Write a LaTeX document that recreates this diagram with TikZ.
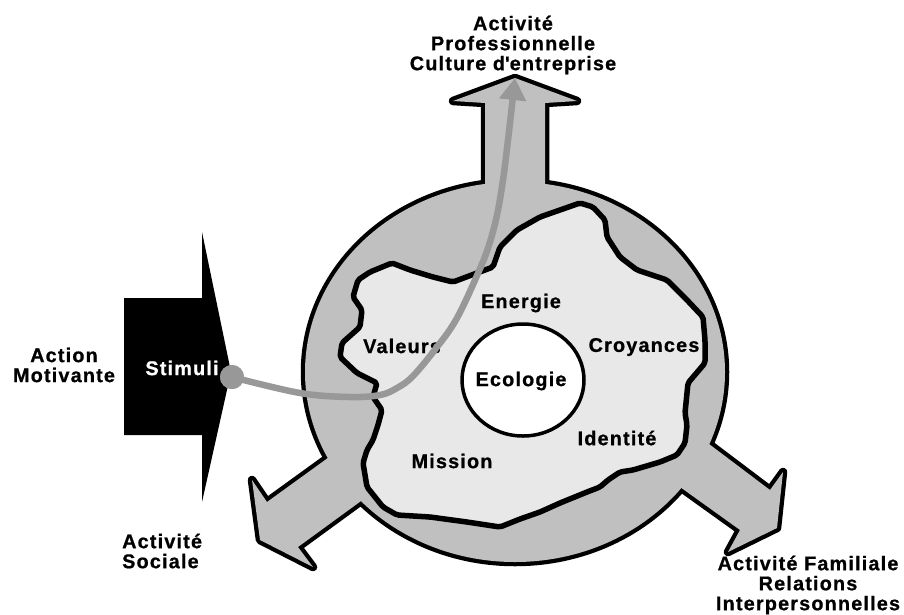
\documentclass[tikz,border=0pt]{standalone}
\usepackage{fontspec}
\setmainfont{Liberation Sans}[LetterSpace=6, BoldFeatures={FakeBold=0.8}]
\usetikzlibrary{arrows.meta,shapes.geometric}
\definecolor{ringgray}{RGB}{192,192,192}
\definecolor{blobgray}{RGB}{232,232,232}
\definecolor{curvegray}{RGB}{152,152,152}
\newcommand\ArrTop{(485,260) -- (485,103) -- (453,101) -- (515,78) -- (577,101) -- (545,103) -- (545,260) -- cycle}
\newcommand\ArrLeft{(390,413) -- (267,502) -- (252,480) -- (260,540) -- (313,567) -- (298,547) -- (420,458) -- cycle}
\newcommand\ArrRight{(660,407) -- (770,490) -- (783,472) -- (777,528) -- (728,552) -- (740,530) -- (634,454) -- cycle}
\newcommand\Ring{(515,372) ellipse [x radius=210pt, y radius=190pt]}
\begin{document}
\begin{tikzpicture}[x=1pt,y=-1pt,
  lbl/.style={font=\fontsize{19.8}{20}\selectfont\bfseries, align=center, inner sep=0pt},
  outl/.style={draw=black, line width=8.5pt, line join=round},
  ringfill/.style={fill=ringgray},
  curveline/.style={draw=curvegray, line width=6.5pt, -{Triangle[length=22pt,width=26pt]}}]
\useasboundingbox (0,0) rectangle (904,614);

% outer shape: three arrows and the ring (outlines first, then fills)
\draw[outl] \ArrTop;
\draw[outl] \ArrLeft;
\draw[outl] \ArrRight;
\draw[outl] \Ring;
\fill[ringfill] \ArrTop;
\fill[ringfill] \ArrLeft;
\fill[ringfill] \ArrRight;
\fill[ringfill] \Ring;

% inner blob
\draw[line width=5.5pt, fill=blobgray, line join=round, rounded corners=2pt]
  (580,203) -- (593,207) -- (605,220) -- (607,237) -- (620,257) -- (637,270) -- (667,280)
  -- (687,300) -- (703,317) -- (705,340) -- (705,363) -- (688,383) -- (685,413) -- (687,425)
  -- (685,443) -- (677,455) -- (660,462) -- (633,470) -- (620,472) -- (608,480) -- (600,487)
  -- (587,492) -- (560,503) -- (540,512) -- (520,519) -- (500,527) -- (467,522) -- (430,517)
  -- (397,515) -- (383,507) -- (367,487) -- (363,463) -- (367,450) -- (373,440) -- (378,425)
  -- (382,410) -- (373,397) -- (377,383) -- (357,373) -- (340,357) -- (342,343) -- (360,327)
  -- (362,310) -- (353,297) -- (358,280) -- (370,272) -- (392,263) -- (410,270) -- (433,277)
  -- (453,282) -- (477,273) -- (493,267) -- (500,247) -- (517,230) -- (540,217) -- cycle;

% centre
\node[ellipse, draw=black, fill=white, line width=3.5pt, minimum width=122pt, minimum height=112pt, inner sep=0pt] (eco) at (523,380) {};
\node[lbl] (ecot) at (521,381) {Ecologie};

% inner labels
\node[lbl] (energie) at (521,303) {Energie};
\node[lbl] (valeurs) at (402,346) {Valeurs};
\node[lbl] (croy) at (644,347) {Croyances};
\node[lbl] (ident) at (617,438) {Identité};
\node[lbl] (mission) at (452,461) {Mission};

% outer labels
\node[lbl] (top) at (513,45) {Activité\\Professionnelle\\Culture d\textquotesingle entreprise};
\node[lbl] (action) at (64,365) {Action\\Motivante};
\node[lbl, align=left, anchor=west] (sociale) at (122,551) {Activité\\Sociale};
\node[lbl] (famil) at (808,585) {Activité Familiale\\Relations\\Interpersonnelles};

% stimuli black arrow
\fill[black] (124,298) -- (202,298) -- (202,232) -- (231,372) -- (202,502) -- (202,435) -- (124,435) -- cycle;
\node[lbl, text=white] (stim) at (182,368) {Stimuli};

% gray curve
\coordinate (ctip) at (515,78);
\node[circle, fill=curvegray, minimum size=24pt, inner sep=0pt] (dot) at (232,377) {};
\draw[curveline] plot[smooth, tension=0.6] coordinates {(dot.center) (300,393) (350,397) (380,395) (397,388) (413,376) (437,347) (457,318) (479,271) (489,245) (497,215) (503,180) (508,140) (512,105) (ctip)};
\node[circle, fill=curvegray, minimum size=24pt, inner sep=0pt] at (dot) {};
\end{tikzpicture}
\end{document}
